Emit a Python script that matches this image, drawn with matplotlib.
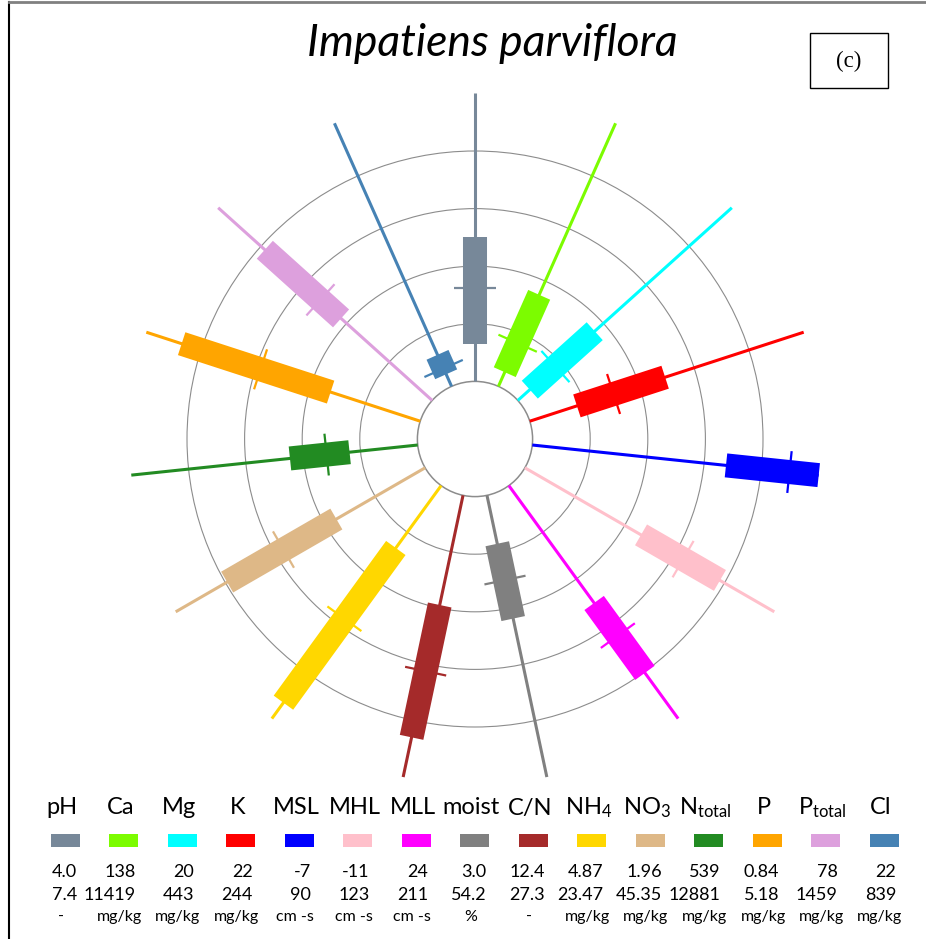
import numpy as np
import matplotlib.pyplot as plt
from matplotlib.lines import Line2D
from matplotlib.patches import Circle, Rectangle

plt.rcParams['font.family'] = ['Lato', 'DejaVu Sans']
plt.rcParams['mathtext.fontset'] = 'custom'
plt.rcParams['mathtext.rm'] = 'Lato'
plt.rcParams['mathtext.default'] = 'regular'

# parameters, clockwise from the top
labels = ['pH', 'Ca', 'Mg', 'K', 'MSL', 'MHL', 'MLL', 'moist', 'C/N',
          r'NH$_4$', r'NO$_3$', r'N$_{total}$', 'P', r'P$_{total}$', 'Cl']
colors = ['#778899', '#7CFC00', '#00FFFF', '#FF0000', '#0000FF', '#FFC0CB',
          '#FF00FF', '#808080', '#A52A2A', '#FFD700', '#DEB887', '#228B22',
          '#FFA500', '#DDA0DD', '#4682B4']
min_txt = ['4.0', '138', '20', '22', '-7', '-11', '24', '3.0', '12.4',
           '4.87', '1.96', '539', '0.84', '78', '22']
max_txt = ['7.4', '11419', '443', '244', '90', '123', '211', '54.2', '27.3',
           '23.47', '45.35', '12881', '5.18', '1459', '839']
units = ['-', 'mg/kg', 'mg/kg', 'mg/kg', 'cm -s', 'cm -s', 'cm -s', '%', '-',
         'mg/kg', 'mg/kg', 'mg/kg', 'mg/kg', 'mg/kg', 'mg/kg']
# lower quartile, upper quartile, mean
q1 = [4.44, 747, 43.7, 60.2, 58.6, 51.4, 118.2, 11.8, 18.2, 9.85, 17.4, 3476, 2.26, 666, 59.6]
q3 = [5.71, 4064, 172, 131.7, 90, 93.8, 174.3, 25.4, 25.2, 22.2, 36.4, 6044, 4.62, 1158, 120]
mean = [5.10, 1988, 94.4, 89.9, 80.1, 74.0, 144.4, 18.4, 21.7, 15.5, 26.6, 4464, 3.37, 799, 77.6]

W, H = 926, 939
cx, cy = 475, 439      # centre of the wheel in pixels
unit = 57.6            # pixels per ring

fig = plt.figure(figsize=(W / 100, H / 100), dpi=100)
ax = fig.add_axes([0, 0, 1, 1])
ax.set_xlim(-cx / unit, (W - cx) / unit)
ax.set_ylim(-(H - cy) / unit, cy / unit)
ax.axis('off')

for r in range(1, 6):
    ax.add_patch(Circle((0, 0), r, fill=False, ec='#8c8c8c',
                        lw=1.1 if r == 1 else 0.8, zorder=1))

half_tick = 21 / unit
for i in range(len(labels)):
    th = np.deg2rad(90 - 24 * i)
    c, s = np.cos(th), np.sin(th)
    lo, hi = float(min_txt[i]), float(max_txt[i])

    def rad(v):
        return 1 + 5 * (v - lo) / (hi - lo)

    col = colors[i]
    ax.plot([c, 6 * c], [s, 6 * s], color=col, lw=2.2, solid_capstyle='butt', zorder=2)
    a, b = rad(q1[i]), rad(q3[i])
    ax.plot([a * c, b * c], [a * s, b * s], color=col, lw=17.3,
            solid_capstyle='butt', zorder=3)
    m = rad(mean[i])
    ax.plot([m * c - half_tick * s, m * c + half_tick * s],
            [m * s + half_tick * c, m * s - half_tick * c],
            color=col, lw=1.6, solid_capstyle='butt', zorder=4)

# frame lines
fig.add_artist(Line2D([9 / W, 9 / W], [0, 1 - 2 / H], color='black', lw=1.5))
fig.add_artist(Line2D([9 / W, 1], [1 - 2 / H, 1 - 2 / H], color='#808080', lw=2))

fig.text(492 / W, 1 - 43 / H, 'Impatiens parviflora', fontstyle='italic',
         fontsize=32, ha='center', va='center')
fig.add_artist(Rectangle((810 / W, 1 - 88 / H), 78 / W, 55 / H, fill=False,
                         ec='black', lw=1, transform=fig.transFigure))
fig.text(849 / W, 1 - 61 / H, '(c)', family='Liberation Serif', fontsize=16.5,
         ha='center', va='center')

# legend table
for i in range(len(labels)):
    xc = 65 + 58.5 * i
    fig.text((xc - 3) / W, 1 - 808 / H, labels[i], fontsize=17, ha='center', va='center')
    fig.add_artist(Rectangle(((xc - 14.5) / W, 1 - 847 / H), 29 / W, 13 / H,
                             color=colors[i], lw=0, transform=fig.transFigure))
    fig.text((xc + 12) / W, 1 - 872 / H, min_txt[i], fontsize=13, ha='right', va='center')
    fig.text((xc + 12) / W, 1 - 895 / H, max_txt[i], fontsize=13, ha='right', va='center')
    fig.text((xc - 4) / W, 1 - 917 / H, units[i], fontsize=11.5, ha='center', va='center')

plt.savefig('out.png', dpi=100)
